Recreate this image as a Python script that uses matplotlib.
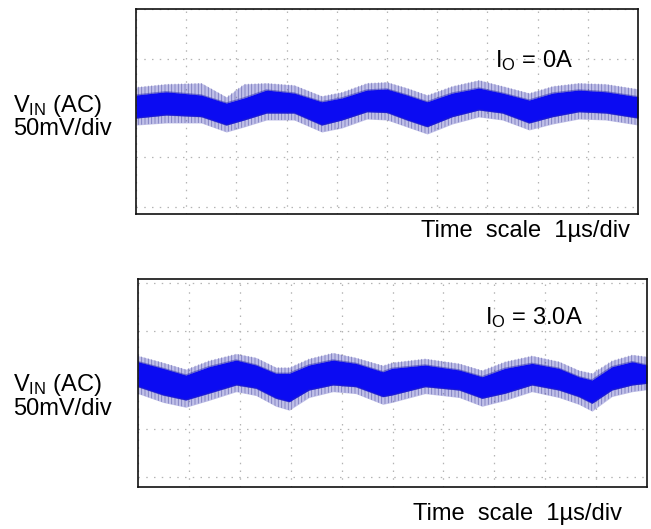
import matplotlib
matplotlib.use("Agg")
import matplotlib.pyplot as plt

plt.rcParams['font.family'] = ['Liberation Sans', 'DejaVu Sans']
plt.rcParams['mathtext.fontset'] = 'custom'
plt.rcParams['mathtext.rm'] = 'Liberation Sans'
plt.rcParams['mathtext.it'] = 'Liberation Sans'
plt.rcParams['hatch.linewidth'] = 0.6

# ---------------- data ----------------
# time in µs (1 µs/div), voltage in mV (50 mV/div)
t_top = [0, 0.6, 1.3, 1.8, 2.15, 2.6, 3.15, 3.7, 4.1, 4.6, 5.0, 5.4, 5.8, 6.3,
         6.83, 7.3, 7.83, 8.3, 8.82, 9.36, 10.0]
top_core_hi = [13.2, 16.5, 13.2, 5.1, 10.2, 18.3, 15.2, 6.4, 10.2, 18.3, 19.3,
               13.2, 6.4, 15.2, 20.3, 15.2, 8.1, 15.2, 18.3, 16.5, 11.5]
top_core_lo = [-10.2, -7.1, -8.8, -17.3, -12.2, -5.1, -5.1, -17.3, -12.2, -3.8,
               -4.6, -12.2, -19.0, -8.8, -2.0, -5.1, -15.2, -8.8, -3.8, -5.1, -10.2]
top_spike_hi = [21.3, 24.4, 25.4, 11.2, 24.4, 25.4, 23.3, 12.2, 16.2, 25.4, 26.4,
                20.3, 13.2, 22.3, 28.4, 22.3, 15.2, 22.3, 25.4, 24.4, 19.3]
top_spike_lo = [-17.3, -15.2, -15.2, -24.4, -19.3, -12.2, -12.2, -24.4, -20.3,
                -11.2, -12.2, -19.3, -26.4, -16.2, -9.1, -12.2, -22.3, -16.2,
                -11.2, -12.2, -17.3]

t_bot = [0, 0.49, 0.94, 1.39, 1.93, 2.32, 2.71, 2.97, 3.36, 3.83, 4.28, 4.81,
         4.99, 5.64, 6.31, 6.76, 7.21, 7.74, 8.27, 8.66, 8.92, 9.31, 9.71, 10.0]
bot_core_hi = [18.8, 12.0, 5.1, 13.6, 20.5, 15.4, 6.9, 6.9, 15.4, 20.5, 17.1,
               8.5, 12.0, 15.4, 10.3, 3.4, 12.0, 17.1, 12.0, 3.4, 0.0, 13.6,
               18.8, 15.4]
bot_core_lo = [-6.9, -15.4, -20.5, -13.6, -5.1, -8.5, -18.8, -22.3, -10.3, -5.1,
               -6.9, -17.1, -15.4, -6.9, -10.3, -18.8, -13.6, -5.1, -10.3,
               -17.1, -23.9, -10.3, -5.1, -3.4]
bot_spike_hi = [25, 18, 11, 20, 27, 23, 13, 13, 22, 28, 23, 15, 18, 22, 17, 10,
                19, 25, 19, 10, 7, 20, 26, 24]
bot_spike_lo = [-14, -23, -28, -21, -12, -16, -27, -31, -18, -12, -14, -25, -23,
                -14, -18, -27, -21, -12, -18, -25, -32, -17, -12, -10]

x_grid = list(range(0, 11))
y_grid = [-100, -50, 0, 50, 100]

vin_label = "V$_{\\mathrm{IN}}$ (AC)"
scale_label = "50mV/div"
time_label = "Time  scale  1\u00b5s/div"
io_labels = ["I$_{\\mathrm{O}}$ = 0A", "I$_{\\mathrm{O}}$ = 3.0A"]

# ---------------- figure ----------------
W, H = 651, 529
fig = plt.figure(figsize=(W / 100, H / 100), dpi=100)


def rect(x0, y0, x1, y1):
    return [x0 / W, 1 - y1 / H, (x1 - x0) / W, (y1 - y0) / H]


def fpos(x, y):
    return x / W, 1 - y / H


panels = [
    dict(rect=rect(136, 9, 638, 214), ylim=(-107.6, 100.5), t=t_top,
         chi=top_core_hi, clo=top_core_lo, shi=top_spike_hi, slo=top_spike_lo),
    dict(rect=rect(138, 279, 647, 487), ylim=(-109.8, 103.6), t=t_bot,
         chi=bot_core_hi, clo=bot_core_lo, shi=bot_spike_hi, slo=bot_spike_lo),
]

for p in panels:
    ax = fig.add_axes(p['rect'])
    ax.set_xlim(0, 10)
    ax.set_ylim(*p['ylim'])
    ax.set_xticks(x_grid)
    ax.set_yticks(y_grid)
    ax.tick_params(length=0, labelbottom=False, labelleft=False)
    ax.grid(True, color='#b4b4b4', linestyle=(0, (1.2, 5)), linewidth=0.9)
    ax.set_axisbelow(True)
    for s in ax.spines.values():
        s.set_color('#111111')
        s.set_linewidth(1.2)
    # spiky fringe: soft haze plus fine vertical hairs
    ax.fill_between(p['t'], p['slo'], p['shi'], color=(0.3, 0.3, 0.75, 0.35),
                    linewidth=0)
    ax.fill_between(p['t'], p['slo'], p['shi'], facecolor='none',
                    edgecolor=(0.15, 0.15, 0.55, 0.45), hatch='|||||',
                    linewidth=0)
    # dense core
    ax.fill_between(p['t'], p['clo'], p['chi'], color='#0b0bf2', linewidth=0)
    ax.plot(p['t'], p['chi'], color='#2a2ab8', lw=1.0, alpha=0.5)
    ax.plot(p['t'], p['clo'], color='#2a2ab8', lw=1.0, alpha=0.5)

fs = 17
# left labels
for (yv, ys) in [(112, 135), (390.7, 415)]:
    fig.text(*fpos(13, yv), vin_label, fontsize=fs, va='baseline', ha='left')
    fig.text(*fpos(13, ys), scale_label, fontsize=fs, va='baseline', ha='left')

# time labels
fig.text(*fpos(630, 237), time_label, fontsize=fs, va='baseline', ha='right')
fig.text(*fpos(622, 520), time_label, fontsize=fs, va='baseline', ha='right')

# load current labels
fig.text(*fpos(495, 67), io_labels[0], fontsize=fs, va='baseline', ha='left')
fig.text(*fpos(485, 324), io_labels[1], fontsize=fs, va='baseline', ha='left')

fig.savefig("out.png", dpi=100)
